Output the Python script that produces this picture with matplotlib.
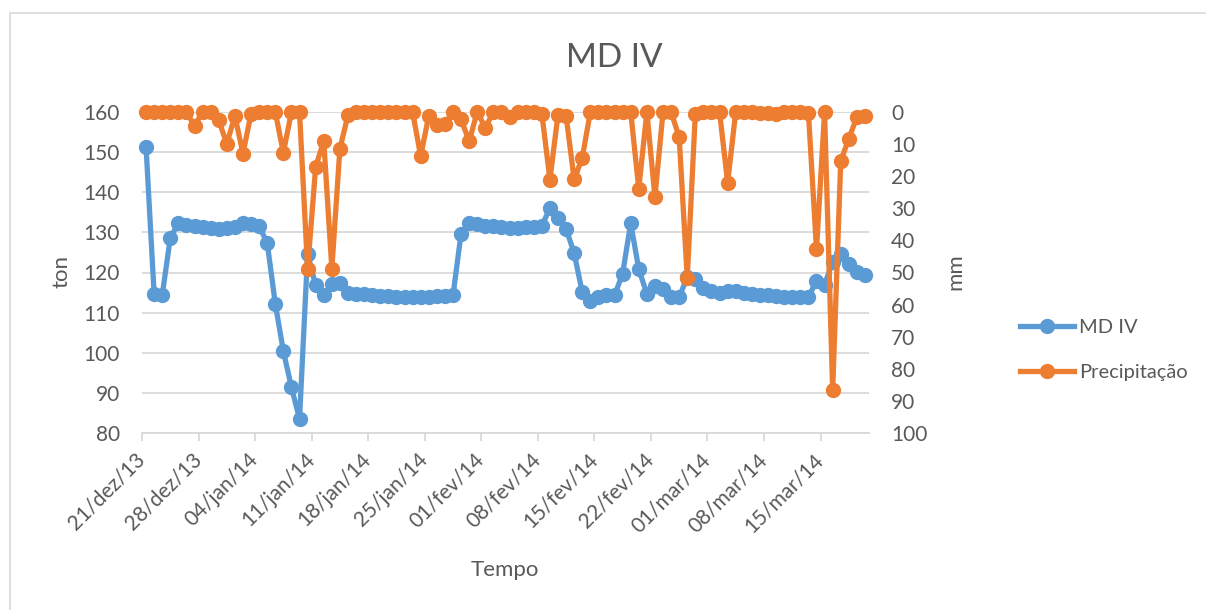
import matplotlib
matplotlib.use("Agg")
import matplotlib.pyplot as plt
from matplotlib.patches import Rectangle
import numpy as np

# daily series, 21/dez/13 .. 20/mar/14
ton = [151.4, 114.7, 114.3, 128.6, 132.3, 131.9, 131.6, 131.3, 131.1, 130.9,
       131.1, 131.3, 132.3, 132.0, 131.5, 127.4, 112.2, 100.4, 91.4, 83.5,
       124.7, 116.8, 114.4, 117.2, 117.4, 114.9, 114.7, 114.6, 114.4, 114.2,
       114.1, 114.0, 114.0, 114.0, 114.0, 114.0, 114.1, 114.2, 114.3, 129.7,
       132.4, 132.0, 131.7, 131.5, 131.3, 131.2, 131.2, 131.3, 131.4, 131.6,
       136.1, 133.6, 130.9, 124.8, 115.1, 113.0, 113.9, 114.3, 114.3, 119.7,
       132.3, 120.8, 114.7, 116.6, 116.0, 113.8, 113.8, 118.9, 118.4, 116.1,
       115.3, 115.0, 115.5, 115.3, 114.9, 114.6, 114.4, 114.3, 114.1, 114.0,
       113.9, 113.8, 113.8, 118.0, 117.0, 122.6, 124.7, 122.2, 120.1, 119.3]

precip = [0.0, 0.0, 0.0, 0.0, 0.0, 0.0, 4.3, 0.0, 0.0, 2.6,
          9.9, 1.2, 13.0, 0.5, 0.0, 0.0, 0.0, 12.7, 0.0, 0.0,
          49.0, 17.1, 9.0, 48.8, 11.4, 1.0, 0.0, 0.0, 0.0, 0.0,
          0.0, 0.0, 0.0, 0.0, 13.7, 1.2, 3.9, 3.6, 0.0, 2.3,
          9.1, 0.0, 4.9, 0.0, 0.0, 1.6, 0.0, 0.0, 0.0, 0.5,
          21.1, 0.8, 1.2, 21.0, 14.3, 0.0, 0.0, 0.0, 0.0, 0.0,
          0.0, 23.9, 0.0, 26.5, 0.0, 0.0, 7.8, 51.7, 0.5, 0.0,
          0.0, 0.0, 22.0, 0.0, 0.0, 0.0, 0.2, 0.2, 0.5, 0.0,
          0.0, 0.0, 0.2, 42.8, 0.0, 86.7, 15.3, 8.3, 1.6, 1.2]

week_labels = ["21/dez/13", "28/dez/13", "04/jan/14", "11/jan/14", "18/jan/14",
               "25/jan/14", "01/fev/14", "08/fev/14", "15/fev/14", "22/fev/14",
               "01/mar/14", "08/mar/14", "15/mar/14"]

BLUE = "#5B9BD5"
ORANGE = "#ED7D31"
TXT = "#595959"
GRID = "#D9D9D9"

plt.rcParams["font.family"] = ["Lato", "DejaVu Sans"]

W, H = 1206, 610
fig = plt.figure(figsize=(W / 100, H / 100), dpi=100)


def px(x, y):
    return x / W, 1 - y / H


# chart area frame
fig.add_artist(Rectangle((10 / W, -0.1), 1.5, 1.1 - 13 / H, transform=fig.transFigure,
                         fill=False, edgecolor=GRID, lw=1.2))

left, right, top, bottom = 142, 869, 112, 433
ax = fig.add_axes([left / W, 1 - bottom / H, (right - left) / W, (bottom - top) / H])
ax2 = ax.twinx()

days = np.arange(len(ton))
ax.plot(days, ton, color=BLUE, lw=3.8, marker="o", ms=10, label="MD IV",
        solid_joinstyle="round", zorder=3, clip_on=False)
ax2.plot(days, precip, color=ORANGE, lw=3.8, marker="o", ms=10, label="Precipitação",
         solid_joinstyle="round", zorder=3, clip_on=False)

ax.set_xlim(-0.5, len(ton) - 0.5)
ax.set_ylim(80, 160)
ax.set_yticks(np.arange(80, 161, 10))
ax2.set_ylim(100, 0)
ax2.set_yticks(np.arange(0, 101, 10))

ax.set_xticks(np.arange(len(week_labels)) * 7 - 0.5)
ax.set_xticklabels(week_labels, rotation=45, ha="right", va="center",
                   rotation_mode="anchor")

ax.grid(axis="y", color=GRID, lw=1.3)
ax.set_axisbelow(True)
for a in (ax, ax2):
    for s in a.spines.values():
        s.set_visible(False)
ax.spines["bottom"].set_visible(True)
ax.spines["bottom"].set_color(GRID)
ax.spines["bottom"].set_linewidth(1.3)

ax.tick_params(axis="x", colors=GRID, length=6, width=1.3, labelcolor=TXT,
               labelsize=15, pad=11)
ax.tick_params(axis="y", length=0, labelcolor=TXT, labelsize=15, pad=16)
ax2.tick_params(axis="y", length=0, labelcolor=TXT, labelsize=15, pad=16)

fig.text(*px(614, 58), "MD IV", ha="center", va="center", fontsize=24, color=TXT)
fig.text(*px(505, 570), "Tempo", ha="center", va="center", fontsize=16, color=TXT)
fig.text(*px(62, 272), "ton", ha="center", va="center", fontsize=16, color=TXT,
         rotation=90)
fig.text(*px(955, 272), "mm", ha="center", va="center", fontsize=16, color=TXT,
         rotation=90)

h1, l1 = ax.get_legend_handles_labels()
h2, l2 = ax2.get_legend_handles_labels()
fig.legend(h1 + h2, l1 + l2, loc="center left", bbox_to_anchor=px(1010, 350),
           frameon=False, fontsize=14.5, labelcolor=TXT, handlelength=2.7,
           handletextpad=0.25, labelspacing=1.35, borderpad=0)

fig.savefig("out.png", dpi=100)
